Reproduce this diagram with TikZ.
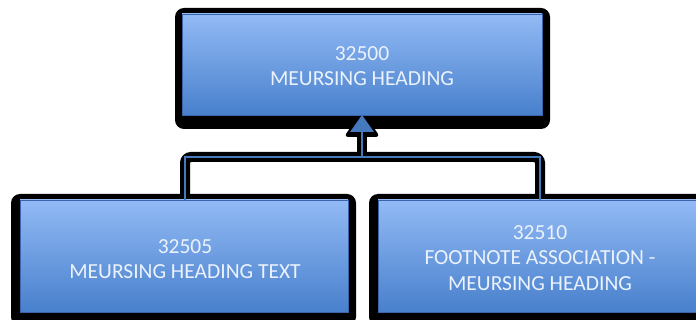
\documentclass[tikz,border=0pt]{standalone}
\usepackage{fontspec}
\setmainfont{Carlito}
\usetikzlibrary{arrows.meta}
\definecolor{boxtop}{RGB}{146,186,245}
\definecolor{boxbot}{RGB}{72,128,204}
\definecolor{boxline}{RGB}{60,100,170}
\definecolor{linkblue}{RGB}{70,120,190}
\definecolor{textwhite}{RGB}{235,242,252}
\tikzset{
  shadowbox/.style={fill=black, rounded corners=9pt},
  bluebox/.style={draw=boxline, line width=0.6pt, top color=boxtop, bottom color=boxbot, inner sep=0pt},
  boxtext/.style={text=textwhite, font=\fontsize{21.5}{25.5}\selectfont, align=center},
  linkouter/.style={draw=black, line width=10pt, rounded corners=6pt},
  linkinner/.style={draw=linkblue, line width=2.6pt},
}
\begin{document}
\begin{tikzpicture}[x=1pt,y=-1pt]
\useasboundingbox (0,0) rectangle (696,320);
% shadows
\fill[shadowbox] (175,8) rectangle (550,129);
\fill[shadowbox] (11,194) rectangle (356,326);
\fill[shadowbox] (369,194) rectangle (706,326);
% connector outlines
\coordinate (jn) at (362,157);
\coordinate (la) at (185,157);
\coordinate (ra) at (540,157);
\draw[linkouter] (185,201) -- (la) -- (ra) -- (540,201);
\draw[linkouter] (362,157) -- (362,128);
\fill[black, rounded corners=4pt] (344,137) -- (362,110) -- (380,137) -- cycle;
% boxes
\node[bluebox, minimum width=360pt, minimum height=101pt] (top) at (362,64.5) {};
\node[bluebox, minimum width=328pt, minimum height=112pt] (left) at (184,256) {};
\node[bluebox, minimum width=330pt, minimum height=112pt] (right) at (543,256) {};
% connectors
\draw[linkinner] (left.north -| la) -- (la) -- (ra) -- (right.north -| ra);
\draw[linkinner] (jn) -- (362,130);
\fill[linkblue] (350,132) -- (362,115) -- (374,132) -- cycle;
% texts
\node[boxtext] at (362,66) {32500\\MEURSING HEADING};
\node[boxtext] at (185,259) {32505\\MEURSING HEADING TEXT};
\node[boxtext] at (540,258) {32510\\FOOTNOTE ASSOCIATION -\\MEURSING HEADING};
\end{tikzpicture}
\end{document}
